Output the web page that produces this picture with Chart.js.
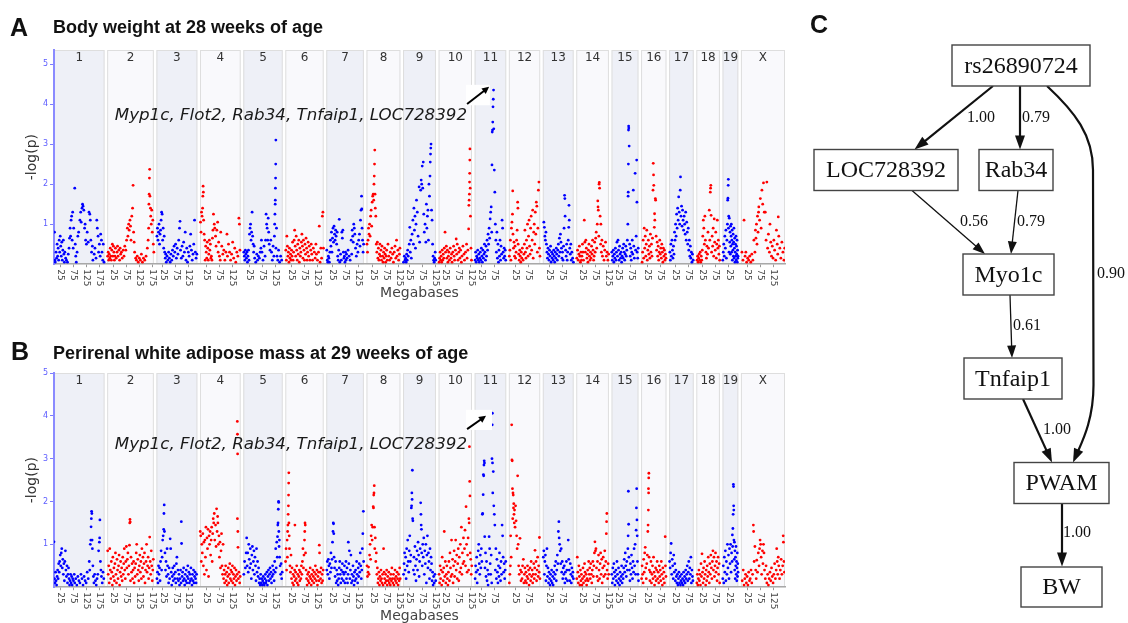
<!DOCTYPE html>
<html>
<head>
<meta charset="utf-8">
<script src="https://cdn.jsdelivr.net/npm/chart.js@4.4.0/dist/chart.umd.min.js"></script>
<style>
  html, body { margin: 0; padding: 0; background: #fff; }
  body { width: 1128px; height: 623px; overflow: hidden; position: relative; }
  canvas { position: absolute; }
  .lbl { position: absolute; font-family: "Liberation Sans", Arial, sans-serif; font-weight: bold; line-height: 1; white-space: nowrap; color: #111; }
</style>
</head>
<body>
<canvas id="bw" width="800" height="305" style="left:0;top:0"></canvas>
<canvas id="pwam" width="800" height="305" style="left:0;top:323px"></canvas>
<canvas id="dag" width="328" height="623" style="left:800px;top:0"></canvas>
<div class="lbl" style="left:10px;top:15px;font-size:25px">A</div>
<div class="lbl" style="left:53px;top:18px;font-size:18px">Body weight at 28 weeks of age</div>
<div class="lbl" style="left:11px;top:339px;font-size:25px">B</div>
<div class="lbl" style="left:53px;top:344px;font-size:18px">Perirenal white adipose mass at 29 weeks of age</div>
<div class="lbl" style="left:810px;top:12px;font-size:25px">C</div>
<script>
// chromosomes and their lengths (Mb)
const chromosomes = ["1","2","3","4","5","6","7","8","9","10","11","12","13","14","15","16","17","18","19","X"];
const chrLengthMb = [195,180,158,157,152,148,145,131,127,129,122,121,119,126,104,98,95,91,61,170];
const xTickMb = [25, 75, 125, 175];
const yTicks = [1, 2, 3, 4, 5];
const geneLabel = "Myp1c, Flot2, Rab34, Tnfaip1, LOC728392";

// -log(p) by chromosome, [position Mb, -log(p)]  -- body weight, 28 weeks
const bodyWeightLogP = [
  [[2,0.8],[3,0.1],[5,0.05],[8,0.3],[10,0.15],[12,0.5],[14,0.2],[16,0.4],[18,0.1],[20,0.6],[22,0.3],[24,0.7],[26,0.45],[28,0.2],[30,0.55],[32,0.1],[34,0.35],[36,0.6],[38,0.25],[40,0.05],[42,0.3],[45,0.15],[48,0.1],[52,0.05],[55,0.25],[58,0.4],[60,0.65],[62,0.9],[64,0.7],[66,1.1],[68,1.2],[70,0.6],[72,1.3],[74,0.4],[76,0.9],[80,1.9],[82,0.5],[84,0.2],[86,0.05],[89,0.3],[92,0.7],[95,0.8],[100,1.1],[103,1.3],[105,1.05],[108,1.4],[110,1.5],[112,1.45],[115,1.35],[118,0.9],[120,1.0],[122,0.6],[125,0.5],[128,0.8],[132,0.55],[135,1.3],[138,1.25],[140,1.1],[142,0.6],[145,0.3],[148,0.45],[150,0.1],[155,0.25],[158,0.4],[162,0.15],[165,1.1],[167,0.9],[170,0.7],[172,0.3],[175,0.5],[178,0.2],[180,0.75],[183,0.6],[185,0.3],[188,0.1],[190,0.5],[193,0.05]],
  [[2,0.2],[4,0.3],[6,0.1],[8,0.25],[10,0.15],[12,0.4],[14,0.2],[16,0.1],[18,0.35],[20,0.5],[22,0.2],[24,0.45],[26,0.3],[28,0.1],[30,0.2],[32,0.4],[35,0.15],[38,0.3],[40,0.45],[42,0.2],[45,0.35],[48,0.1],[50,0.4],[52,0.25],[55,0.3],[58,0.15],[62,0.35],[65,0.2],[68,0.45],[72,0.35],[75,0.6],[78,0.9],[80,0.7],[83,1.0],[85,0.85],[88,1.1],[90,0.95],[92,0.6],[95,1.2],[98,1.4],[100,1.97],[102,0.8],[104,0.55],[106,0.3],[110,0.15],[113,0.1],[116,0.2],[120,0.05],[124,0.15],[128,0.1],[132,0.25],[136,0.05],[140,0.15],[145,0.1],[150,0.2],[155,0.4],[158,0.6],[160,0.9],[161,1.5],[162,1.75],[163,2.15],[164,2.37],[165,1.7],[167,1.4],[168,1.2],[170,1.0],[172,1.35],[174,0.8],[176,1.1],[178,0.5],[180,0.3]],
  [[2,0.7],[4,0.9],[6,0.6],[8,0.8],[10,1.0],[12,0.5],[14,0.75],[16,0.85],[18,1.1],[20,1.3],[22,1.25],[24,0.6],[26,0.9],[28,0.4],[30,0.7],[32,0.3],[34,0.15],[36,0.25],[38,0.05],[41,0.2],[44,0.1],[47,0.3],[50,0.15],[53,0.05],[56,0.25],[59,0.1],[62,0.35],[65,0.2],[68,0.45],[71,0.3],[74,0.5],[77,0.15],[80,0.4],[83,0.25],[86,0.6],[89,0.9],[91,1.07],[93,0.35],[96,0.15],[99,0.45],[102,0.2],[105,0.55],[108,0.3],[111,0.8],[114,0.1],[117,0.4],[120,0.05],[123,0.3],[126,0.2],[129,0.45],[132,0.75],[135,0.35],[138,0.1],[141,0.25],[144,0.5],[147,1.1],[150,0.3],[153,0.15],[156,0.25]],
  [[2,1.05],[4,0.8],[6,1.3],[8,1.2],[10,1.4],[11,1.7],[12,1.95],[13,1.8],[14,1.1],[16,0.75],[18,0.6],[20,0.1],[22,0.45],[24,0.3],[26,0.15],[28,0.55],[30,0.4],[32,0.1],[34,0.25],[36,0.6],[38,0.35],[40,0.5],[42,0.15],[44,0.2],[46,0.1],[48,0.65],[50,0.85],[52,1.25],[55,1.0],[57,0.9],[60,0.7],[62,0.45],[65,0.85],[68,1.05],[70,0.3],[72,0.55],[75,0.2],[78,0.1],[80,0.8],[84,0.45],[88,0.25],[92,0.35],[96,0.1],[100,0.3],[104,0.75],[106,0.2],[110,0.5],[114,0.3],[118,0.1],[122,0.25],[126,0.55],[130,0.15],[134,0.4],[138,0.05],[142,0.3],[146,0.2],[150,1.15],[152,1.0],[154,0.35]],
  [[2,0.3],[4,0.2],[6,0.1],[8,0.35],[10,0.25],[12,0.15],[14,0.3],[16,0.05],[18,0.2],[20,0.35],[22,0.1],[24,0.75],[26,0.9],[28,1.0],[30,0.6],[32,0.8],[34,1.3],[36,0.7],[38,0.5],[40,0.3],[42,0.45],[44,0.15],[48,0.05],[52,0.25],[55,0.1],[58,0.2],[62,0.15],[65,0.3],[68,0.4],[70,0.6],[72,0.3],[76,0.1],[80,0.45],[84,0.2],[86,0.6],[88,1.25],[90,1.0],[92,0.9],[94,0.6],[96,1.15],[98,0.8],[100,0.5],[103,0.35],[106,0.6],[109,0.3],[112,0.1],[115,0.45],[118,0.2],[120,0.7],[121,1.0],[122,1.25],[123,1.5],[123.5,1.6],[124,1.9],[124.5,2.15],[125,2.5],[125.5,3.1],[126,0.4],[128,0.9],[130,0.2],[133,0.1],[136,0.35],[140,0.05],[144,0.2],[148,0.1]],
  [[2,0.35],[4,0.1],[6,0.7],[8,0.45],[10,0.2],[12,0.3],[14,0.05],[16,0.4],[18,0.15],[20,0.25],[22,0.1],[24,0.35],[26,0.2],[28,0.55],[30,0.1],[32,0.3],[34,0.6],[36,0.85],[38,0.45],[40,0.2],[42,0.7],[44,0.35],[46,0.1],[48,0.5],[50,0.25],[52,0.6],[54,0.05],[56,0.4],[58,0.2],[60,0.3],[62,0.55],[64,0.75],[66,0.45],[68,0.15],[70,0.6],[72,0.35],[74,0.1],[76,0.5],[78,0.25],[80,0.65],[82,0.4],[84,0.1],[86,0.3],[88,0.55],[90,0.2],[92,0.45],[95,0.1],[98,0.35],[100,0.5],[102,0.25],[105,0.1],[108,0.4],[112,0.3],[115,0.15],[118,0.5],[120,0.25],[124,0.1],[128,0.3],[131,0.95],[134,0.05],[137,0.4],[140,0.15],[143,1.2],[145,1.3],[147,0.4]],
  [[2,0.35],[4,0.1],[6,0.05],[8,0.2],[10,0.15],[12,0.05],[14,0.3],[16,0.6],[18,0.45],[20,0.8],[22,0.3],[24,0.65],[26,0.9],[28,0.55],[30,0.95],[32,0.75],[34,0.6],[36,0.85],[38,0.7],[40,0.5],[42,0.8],[44,0.2],[46,0.1],[48,0.35],[50,1.12],[52,0.05],[55,0.25],[58,0.1],[60,0.8],[62,0.65],[64,0.85],[66,0.3],[68,0.15],[70,0.2],[72,0.05],[74,0.3],[76,0.1],[78,0.25],[80,0.15],[84,0.35],[88,0.2],[92,0.1],[96,0.6],[98,0.25],[100,0.85],[102,0.7],[104,0.55],[106,1.0],[108,0.9],[110,0.75],[113,0.4],[116,0.2],[119,0.5],[122,0.3],[125,0.6],[128,0.75],[130,0.45],[132,1.1],[134,1.35],[136,1.7],[137,1.38],[138,0.9],[140,0.6],[142,0.3],[144,0.5]],
  [[2,0.5],[4,0.3],[6,0.6],[8,0.9],[10,0.75],[12,1.0],[14,0.7],[16,1.2],[18,1.35],[20,0.95],[22,1.55],[24,1.7],[26,1.75],[28,1.6],[29,2.0],[30,2.2],[31,2.5],[32,2.85],[33,1.75],[34,1.4],[36,1.2],[38,0.5],[40,0.3],[42,0.55],[44,0.15],[46,0.4],[48,0.1],[50,0.25],[52,0.5],[54,0.2],[56,0.35],[58,0.1],[60,0.45],[62,0.2],[64,0.05],[66,0.3],[68,0.15],[70,0.4],[72,0.25],[74,0.05],[76,0.2],[78,0.35],[80,0.1],[83,0.5],[86,0.2],[89,0.1],[92,0.3],[95,0.15],[98,0.4],[101,0.25],[104,0.05],[107,0.3],[110,0.45],[113,0.15],[116,0.6],[118,0.2],[121,0.35],[124,0.1],[127,0.25],[129,0.4]],
  [[2,0.05],[5,0.2],[8,0.1],[10,0.15],[12,0.05],[14,0.25],[16,0.1],[18,0.35],[20,0.2],[24,0.5],[26,0.92],[28,0.3],[30,0.6],[32,0.15],[35,0.75],[38,1.1],[40,0.5],[42,1.4],[44,0.85],[46,1.2],[48,0.4],[50,1.0],[52,1.6],[55,1.3],[58,0.7],[62,1.93],[64,0.55],[68,1.85],[70,2.1],[72,2.0],[74,2.45],[76,1.9],[78,2.55],[80,1.25],[82,0.8],[85,1.0],[88,0.55],[90,1.5],[92,0.9],[94,1.2],[96,1.35],[98,0.6],[100,2.0],[102,1.7],[104,2.2],[105,2.55],[106,2.75],[107,2.9],[108,3.0],[110,1.35],[112,1.1],[114,0.5],[116,0.2],[118,0.1],[120,0.05],[122,0.15],[124,0.3],[126,0.1]],
  [[2,0.05],[4,0.15],[6,0.3],[8,0.1],[10,0.2],[12,0.05],[14,0.35],[16,0.1],[18,0.25],[20,0.15],[22,0.4],[25,0.8],[27,0.3],[30,0.45],[32,0.15],[34,0.35],[36,0.05],[38,0.2],[40,0.3],[42,0.1],[45,0.4],[48,0.15],[50,0.25],[52,0.05],[55,0.3],[58,0.45],[60,0.2],[62,0.1],[65,0.35],[68,0.63],[70,0.25],[72,0.5],[75,0.1],[78,0.3],[80,0.4],[82,0.15],[85,0.35],[88,0.05],[90,0.2],[94,0.45],[98,0.25],[100,0.1],[104,0.3],[108,0.5],[110,0.15],[113,0.35],[116,0.88],[117,1.47],[118,1.6],[119,1.75],[119.5,2.05],[120,2.27],[120.5,2.6],[121,2.88],[122,1.9],[123,1.2],[125,0.4],[127,0.1]],
  [[2,0.1],[4,0.3],[6,0.05],[8,0.2],[10,0.15],[12,0.35],[14,0.1],[16,0.25],[18,0.05],[20,0.15],[22,0.3],[24,0.1],[26,0.4],[28,0.2],[30,0.05],[32,0.35],[34,0.15],[36,0.25],[38,0.5],[40,0.3],[42,0.1],[44,0.45],[46,0.2],[48,0.6],[50,0.35],[52,0.75],[54,0.5],[56,0.9],[58,0.65],[60,1.13],[62,1.3],[64,1.43],[66,0.8],[67,2.48],[68,3.3],[69,3.35],[70,3.55],[71,3.93],[72,4.12],[73,4.35],[74,3.38],[76,2.35],[78,1.8],[80,1.0],[82,0.6],[84,0.3],[86,0.8],[88,0.15],[90,0.5],[92,0.05],[94,0.35],[96,0.2],[98,0.6],[100,0.1],[102,0.45],[104,0.25],[106,1.1],[108,0.9],[110,0.3],[112,0.15],[114,0.4],[116,0.2],[118,0.35],[120,0.1]],
  [[2,0.2],[4,0.35],[6,0.6],[8,0.1],[10,0.9],[12,1.05],[14,1.25],[15,1.83],[16,0.75],[18,0.4],[20,0.55],[22,0.2],[24,0.45],[26,0.15],[28,0.3],[30,0.6],[32,0.85],[34,1.55],[35,1.4],[36,0.5],[38,0.25],[40,0.1],[42,0.35],[44,0.2],[46,0.05],[48,0.3],[50,0.15],[52,0.4],[55,0.1],[58,0.25],[60,0.5],[62,0.85],[64,0.3],[66,0.15],[68,0.6],[70,0.4],[72,1.0],[74,0.2],[76,0.7],[78,1.1],[80,0.45],[82,0.25],[84,0.9],[86,1.2],[88,0.35],[90,0.6],[92,1.35],[94,0.15],[96,0.8],[98,1.0],[100,0.5],[102,1.3],[104,0.75],[106,1.55],[108,1.45],[110,0.3],[112,0.9],[114,1.85],[116,2.05],[118,0.4],[120,0.2]],
  [[4,1.05],[6,0.92],[8,0.7],[10,0.6],[12,0.8],[14,0.5],[16,0.3],[18,0.15],[20,0.4],[22,0.25],[24,0.1],[26,0.35],[28,0.2],[30,0.45],[32,0.05],[34,0.3],[36,0.15],[38,0.25],[40,0.1],[42,0.35],[44,0.2],[46,0.05],[48,0.3],[50,0.15],[52,0.4],[54,0.25],[56,0.1],[58,0.35],[60,0.5],[62,0.2],[64,0.65],[66,0.3],[68,0.75],[70,0.55],[72,0.4],[74,0.15],[76,0.3],[78,0.1],[80,0.45],[82,0.9],[84,1.72],[85,1.64],[86,1.2],[88,0.35],[90,0.2],[92,0.5],[94,0.1],[96,0.3],[98,0.6],[100,0.92],[101,1.47],[102,1.1],[104,0.4],[106,0.25],[108,0.5],[110,0.1],[112,0.3],[115,0.15],[118,0.05]],
  [[2,0.15],[5,0.35],[8,0.1],[10,0.25],[12,0.45],[14,0.2],[16,0.05],[18,0.3],[20,0.1],[22,0.2],[24,0.5],[26,0.3],[28,0.1],[31,1.1],[33,0.55],[35,0.3],[37,0.6],[39,0.4],[41,0.15],[43,0.25],[45,0.05],[47,0.35],[49,0.5],[51,0.2],[53,0.1],[55,0.3],[57,0.15],[59,0.45],[61,0.25],[63,0.6],[65,0.35],[67,0.1],[69,0.2],[71,0.55],[73,0.3],[75,0.65],[77,0.8],[79,0.4],[81,1.0],[83,1.58],[84,1.43],[85,1.35],[87,0.7],[88,2.0],[89,2.04],[90,1.9],[92,1.2],[94,0.5],[95,1.0],[97,0.3],[99,0.6],[101,0.2],[104,0.45],[107,0.1],[110,0.35],[113,0.55],[116,0.2],[119,0.3],[122,0.1],[125,0.25]],
  [[1,0.3],[3,0.1],[5,0.2],[7,0.35],[9,0.05],[11,0.25],[13,0.15],[15,0.4],[17,0.1],[19,0.3],[21,0.55],[23,0.2],[25,0.6],[27,0.35],[29,0.1],[31,0.45],[33,0.25],[35,0.15],[37,0.3],[39,0.05],[41,0.2],[43,0.4],[45,0.15],[47,0.5],[49,0.3],[51,0.1],[53,0.25],[55,0.45],[57,0.2],[59,0.35],[61,0.6],[63,1.0],[64,1.7],[64.5,1.8],[65,2.5],[65.5,3.35],[66,3.45],[66.5,3.4],[68,2.95],[70,0.5],[72,0.2],[74,0.4],[76,0.1],[78,0.3],[80,0.6],[82,0.25],[84,1.85],[86,0.45],[88,0.15],[91,2.27],[93,0.35],[95,0.7],[97,2.6],[98,1.55],[99,0.3],[101,0.15],[103,0.4]],
  [[4,0.05],[6,0.3],[8,0.6],[10,0.15],[12,0.9],[14,0.4],[16,0.7],[18,0.2],[20,0.5],[22,0.85],[24,0.1],[26,0.35],[28,0.6],[30,0.25],[32,0.45],[34,0.15],[36,0.75],[38,0.3],[40,0.5],[42,0.2],[44,0.65],[46,1.85],[47,2.52],[48,2.23],[49,1.97],[51,0.92],[52,1.26],[53,1.1],[55,1.64],[56,1.6],[58,0.7],[60,0.35],[62,0.55],[64,0.2],[66,0.45],[68,0.1],[70,0.3],[72,0.6],[74,0.25],[76,0.4],[78,0.15],[80,0.5],[82,0.3],[84,0.05],[86,0.4],[88,0.2],[90,0.35],[92,0.1],[94,0.25],[96,0.15]],
  [[3,0.3],[5,0.1],[7,0.5],[9,0.2],[11,0.6],[13,0.35],[15,0.15],[17,0.45],[19,0.25],[21,0.8],[23,0.6],[25,1.0],[27,0.7],[29,1.25],[31,0.9],[33,1.4],[35,1.1],[37,1.68],[39,1.3],[41,1.0],[43,1.85],[44,2.18],[46,1.2],[48,1.45],[50,0.95],[52,1.35],[54,1.1],[56,0.85],[58,1.2],[60,1.0],[62,0.75],[64,1.3],[66,0.6],[68,1.05],[70,0.8],[72,0.5],[74,0.9],[76,0.35],[78,0.6],[80,0.2],[82,0.45],[84,0.15],[86,0.3],[88,0.05],[90,0.25],[93,0.1]],
  [[3,0.1],[5,0.2],[7,0.05],[9,0.15],[11,0.25],[13,0.1],[15,0.3],[17,0.05],[19,0.2],[21,0.1],[23,0.35],[25,0.7],[27,1.1],[29,0.9],[31,0.5],[33,1.2],[35,0.6],[37,0.3],[39,0.15],[41,0.45],[43,0.25],[45,0.8],[47,0.4],[50,1.35],[52,0.6],[54,1.8],[55,1.9],[56,1.97],[57,1.22],[59,0.3],[61,0.7],[63,0.45],[65,0.9],[67,0.2],[69,1.13],[71,0.55],[73,0.35],[75,0.8],[77,0.15],[79,0.5],[81,1.1],[83,0.4],[85,0.6],[87,0.25],[89,0.45],[90,0.1]],
  [[1,0.1],[3,0.3],[5,0.5],[7,0.2],[9,0.7],[11,0.4],[13,0.85],[15,0.15],[17,0.6],[19,1.0],[20,1.6],[21,1.65],[22,1.97],[22.5,2.12],[23,0.9],[24,1.2],[25,0.3],[26,1.15],[28,0.55],[29,0.8],[30,0.25],[31,0.95],[32,0.45],[33,0.7],[34,1.0],[35,0.3],[36,0.6],[37,0.85],[38,0.1],[39,0.5],[40,0.35],[41,0.75],[42,0.2],[43,0.55],[44,0.9],[45,0.15],[46,0.4],[47,0.65],[48,0.05],[49,0.3],[50,0.5],[51,0.2],[52,0.7],[53,0.1],[54,0.45],[55,0.25],[56,0.6],[57,0.05],[58,0.35],[59,0.15],[60,0.2]],
  [[4,0.3],[8,0.1],[12,1.1],[16,0.2],[19,0.3],[22,0.05],[26,0.15],[30,0.1],[34,0.2],[38,0.05],[42,0.25],[46,0.1],[50,0.6],[54,0.3],[56,0.85],[58,0.65],[60,1.0],[62,0.5],[64,1.2],[66,0.8],[68,1.3],[69,1.43],[72,1.1],[75,1.64],[78,0.9],[81,1.85],[84,1.5],[87,2.03],[90,1.3],[94,1.3],[97,0.6],[100,2.05],[103,0.4],[106,0.75],[110,0.3],[112,1.0],[115,0.55],[118,0.2],[121,0.45],[124,0.15],[127,0.6],[130,0.35],[134,0.1],[137,0.85],[140,0.5],[142,0.25],[144,1.18],[146,0.7],[150,0.4],[154,0.15],[158,0.55],[162,0.3],[166,0.1],[169,0.4]]
];

// -log(p) by chromosome -- perirenal white adipose mass, 29 weeks
const adiposeLogP = [
  [[0,1.06],[2,0.2],[4,0.1],[6,0.35],[8,0.15],[10,0.05],[12,0.25],[14,0.4],[16,0.2],[18,0.55],[20,0.35],[22,0.6],[24,0.75],[26,0.5],[28,0.8],[30,0.9],[32,0.45],[34,0.65],[36,0.3],[38,0.55],[40,0.15],[42,0.6],[44,0.85],[46,0.4],[48,0.25],[50,0.5],[52,0.1],[54,0.3],[56,0.45],[58,0.2],[60,0.05],[62,0.15],[64,0.3],[66,0.1],[68,0.25],[70,0.05],[72,0.2],[75,0.15],[78,0.3],[80,0.1],[84,0.2],[88,0.05],[92,0.25],[96,0.15],[100,0.1],[104,0.3],[108,0.2],[112,0.05],[116,0.25],[120,0.15],[124,0.1],[128,0.35],[132,0.2],[136,0.6],[138,0.4],[140,1.0],[142,1.1],[143,1.41],[144,1.6],[145,1.77],[146,1.72],[147,1.1],[148,0.9],[150,0.5],[152,0.25],[154,0.1],[157,0.3],[160,0.15],[163,0.05],[166,0.2],[169,0.3],[172,0.85],[175,1.05],[176,1.15],[177,1.57],[179,0.6],[181,0.4],[183,0.25],[186,0.1],[189,0.35],[192,0.2]],
  [[2,0.85],[4,0.3],[6,0.5],[8,0.1],[10,0.9],[12,0.4],[14,0.2],[16,0.6],[18,0.35],[20,0.05],[22,0.7],[24,0.25],[26,0.45],[28,0.15],[30,0.55],[32,0.8],[34,0.3],[36,0.1],[38,0.65],[40,0.4],[42,0.2],[44,0.5],[46,0.75],[48,0.05],[50,0.35],[52,0.6],[54,0.25],[56,0.45],[58,0.15],[60,0.7],[62,0.3],[64,0.55],[66,0.9],[68,0.4],[70,0.2],[72,0.6],[74,0.95],[76,0.45],[78,0.65],[80,0.8],[82,0.3],[84,0.5],[86,0.98],[87,1.5],[88,1.58],[89,1.52],[90,0.15],[92,0.7],[94,0.35],[96,0.55],[98,0.2],[100,0.4],[102,0.6],[104,0.1],[106,0.45],[108,0.25],[110,0.55],[112,0.8],[114,1.0],[116,0.3],[118,0.65],[120,0.4],[122,0.15],[124,0.5],[126,0.75],[128,0.35],[130,0.6],[132,0.2],[134,0.9],[136,0.45],[138,0.7],[140,0.25],[142,0.55],[144,0.8],[146,0.1],[148,0.4],[150,0.6],[152,1.0],[154,0.35],[156,0.5],[158,0.7],[160,0.2],[162,0.45],[164,1.17],[166,0.6],[168,0.3],[170,0.85],[172,0.5],[174,0.15],[176,0.4],[178,0.65]],
  [[2,0.2],[4,0.35],[6,0.1],[8,0.5],[10,0.3],[12,0.45],[14,0.15],[16,0.6],[18,0.85],[20,0.4],[22,0.7],[24,1.1],[26,1.2],[28,1.35],[29,1.72],[30,1.92],[31,1.3],[33,0.8],[35,0.4],[37,0.6],[39,0.25],[41,0.9],[43,0.5],[45,0.3],[47,0.1],[49,0.45],[51,0.2],[53,1.13],[55,0.9],[57,0.35],[59,0.05],[61,0.25],[63,0.45],[65,0.15],[67,0.3],[69,0.5],[71,0.2],[73,0.35],[75,0.1],[77,0.55],[79,0.7],[81,0.2],[83,0.4],[85,0.15],[87,0.3],[89,0.05],[91,0.2],[93,0.4],[95,0.1],[96,1.53],[97,1.02],[99,0.25],[101,0.35],[103,0.15],[105,0.45],[107,0.2],[109,0.05],[111,0.3],[113,0.15],[115,0.4],[117,0.1],[119,0.25],[121,0.5],[123,0.2],[125,0.35],[127,0.1],[129,0.3],[131,0.15],[133,0.45],[135,0.2],[137,0.05],[139,0.3],[141,0.15],[143,0.4],[145,0.1],[147,0.25],[149,0.35],[151,0.2],[153,0.1],[155,0.3]],
  [[1,1.3],[3,1.2],[5,0.6],[7,1.0],[9,0.8],[11,1.25],[13,0.5],[15,1.05],[17,0.3],[19,1.1],[21,0.7],[23,1.4],[25,0.4],[27,1.15],[29,0.9],[31,1.35],[33,0.25],[35,1.2],[37,1.0],[39,1.3],[41,0.75],[43,1.1],[45,1.4],[47,0.6],[49,1.25],[51,1.6],[53,1.5],[55,1.72],[57,1.1],[60,1.45],[62,0.95],[64,1.83],[66,1.3],[68,1.65],[69,1.5],[71,1.0],[73,1.2],[75,0.7],[77,1.05],[79,0.45],[81,0.85],[83,1.25],[85,0.5],[87,0.3],[89,1.0],[91,0.2],[93,0.4],[95,0.1],[97,0.3],[99,0.5],[101,0.15],[103,0.35],[105,0.05],[107,0.25],[109,0.45],[111,0.1],[113,0.3],[115,0.55],[117,0.2],[119,0.4],[121,0.15],[123,0.35],[125,0.5],[127,0.1],[129,0.3],[131,0.2],[133,0.45],[135,0.05],[137,0.25],[139,0.4],[141,0.15],[143,0.3],[144,3.87],[144.5,3.57],[145,3.11],[144.3,1.6],[146,1.3],[146.5,0.93],[148,0.2],[150,0.35],[153,0.1],[155,0.25]],
  [[2,0.3],[5,0.6],[8,0.45],[11,0.8],[13,1.15],[15,0.5],[17,0.8],[19,0.35],[21,1.0],[23,0.65],[25,0.45],[27,0.9],[29,0.55],[31,0.2],[33,0.75],[35,0.95],[37,0.4],[39,0.6],[41,0.85],[43,0.3],[45,0.7],[47,0.5],[49,0.15],[51,0.9],[53,0.35],[55,0.6],[57,0.25],[59,0.45],[61,0.1],[63,0.2],[65,0.05],[67,0.3],[69,0.1],[71,0.2],[73,0.05],[75,0.15],[77,0.25],[79,0.1],[81,0.05],[83,0.2],[85,0.3],[87,0.1],[89,0.15],[91,0.35],[93,0.05],[95,0.25],[97,0.4],[99,0.15],[101,0.3],[103,0.45],[105,0.2],[107,0.35],[109,0.1],[111,0.25],[113,0.5],[115,0.3],[117,0.4],[119,0.15],[121,0.6],[123,0.35],[125,0.9],[127,0.45],[129,1.05],[131,0.7],[132,1.18],[133,1.45],[134,1.5],[135,1.82],[136,2.0],[136.5,1.98],[137,1.3],[138,0.95],[139,1.1],[140,0.7],[142,0.5],[144,0.3],[146,0.55],[148,0.2],[150,0.35]],
  [[1,0.6],[3,0.9],[5,0.4],[7,1.1],[8,0.7],[9,1.3],[10,1.45],[11,1.7],[12,1.9],[12.5,2.15],[13,2.43],[13.5,2.67],[14,1.5],[15,1.2],[16,0.9],[18,0.5],[20,0.35],[22,0.75],[24,0.2],[26,0.45],[28,0.1],[30,0.3],[32,0.05],[34,0.25],[36,0.4],[37,1.45],[38,0.15],[40,0.35],[42,0.2],[44,0.5],[46,0.1],[48,0.3],[50,0.05],[52,0.25],[54,0.4],[56,0.15],[58,0.35],[60,0.2],[62,0.5],[64,0.3],[66,0.6],[68,0.9],[70,0.45],[72,0.75],[74,1.1],[75,1.3],[76,1.5],[77,1.45],[78,0.8],[80,0.4],[82,0.2],[84,0.05],[86,0.3],[88,0.15],[90,0.35],[92,0.1],[94,0.25],[96,0.45],[98,0.2],[100,0.05],[102,0.3],[104,0.15],[106,0.4],[108,0.25],[110,0.1],[112,0.35],[114,0.2],[116,0.5],[118,0.3],[120,0.15],[122,0.4],[124,0.05],[126,0.25],[128,0.35],[130,0.15],[131,0.98],[132,0.8],[134,0.35],[136,0.2],[138,0.45],[140,0.1],[142,0.3],[144,0.15],[146,0.4]],
  [[2,0.4],[4,0.6],[6,0.3],[8,0.65],[10,0.5],[12,0.2],[14,0.55],[16,0.35],[18,0.8],[20,0.45],[22,0.65],[24,1.05],[26,1.3],[27,1.5],[28,1.48],[29,1.25],[30,0.7],[32,0.45],[34,0.25],[36,0.6],[38,0.1],[40,0.4],[42,0.15],[44,0.3],[46,0.05],[48,0.2],[50,0.45],[52,0.6],[54,0.3],[56,0.1],[58,0.4],[60,0.2],[62,0.55],[64,0.35],[66,0.15],[68,0.3],[70,0.5],[72,0.1],[74,0.35],[76,0.6],[78,0.2],[80,0.45],[82,0.1],[84,0.3],[85,1.05],[87,0.55],[89,0.85],[91,0.2],[93,0.4],[95,0.75],[97,0.1],[99,0.3],[101,0.15],[103,0.5],[105,0.25],[107,0.05],[109,0.35],[111,0.15],[113,0.4],[115,0.2],[117,0.6],[119,0.3],[121,0.1],[123,0.45],[125,0.25],[127,0.55],[129,0.35],[131,0.8],[133,0.5],[135,0.2],[137,0.4],[139,0.9],[141,1.25],[143,1.77],[144,0.6]],
  [[2,0.5],[4,0.25],[6,0.35],[8,0.47],[10,0.3],[12,0.75],[14,1.0],[16,0.65],[18,1.2],[20,1.45],[22,1.1],[24,1.4],[26,1.88],[27,1.85],[28,2.15],[29,2.2],[30,2.37],[31,1.4],[32,0.9],[34,1.15],[36,0.6],[38,0.8],[40,0.3],[42,0.45],[44,0.1],[46,0.2],[48,0.35],[50,0.05],[52,0.25],[54,0.15],[56,0.4],[58,0.2],[60,0.1],[62,0.3],[64,0.05],[66,0.9],[68,0.35],[70,0.2],[72,0.1],[74,0.3],[76,0.15],[78,0.4],[80,0.05],[82,0.25],[84,0.15],[86,0.35],[88,0.1],[90,0.2],[92,0.05],[94,0.3],[96,0.15],[98,0.45],[100,0.2],[102,0.1],[104,0.3],[106,0.05],[108,0.2],[110,0.4],[112,0.15],[114,0.25],[116,0.1],[118,0.35],[120,0.2],[122,0.05],[124,0.3],[126,0.15],[128,0.45],[130,0.2]],
  [[2,0.3],[4,0.55],[6,0.8],[8,0.4],[10,0.7],[12,0.2],[14,0.9],[16,0.5],[18,1.1],[20,0.6],[22,0.35],[24,0.85],[26,1.2],[28,0.6],[30,0.75],[32,1.85],[33,1.9],[34,2.2],[35,2.05],[36,2.73],[37,1.6],[38,1.55],[40,0.4],[42,0.7],[44,0.3],[46,0.95],[48,0.5],[50,0.15],[52,0.65],[54,0.85],[56,0.4],[58,1.05],[60,0.75],[62,0.25],[64,0.6],[66,0.9],[68,1.97],[69,1.7],[70,1.45],[71,1.35],[72,0.8],[74,0.5],[76,1.0],[78,0.7],[80,1.15],[82,0.3],[84,0.85],[86,0.55],[88,1.0],[90,0.1],[92,0.75],[94,1.2],[96,0.45],[98,0.8],[100,0.6],[102,0.2],[104,0.9],[106,0.4],[108,0.7],[110,0.55],[112,0.15],[114,0.35],[116,0.05],[118,0.25],[120,0.1],[123,0.3],[126,0.15]],
  [[2,0.3],[4,0.1],[6,0.5],[8,0.2],[10,0.4],[12,0.05],[14,0.7],[16,0.35],[18,0.15],[20,0.45],[22,1.3],[24,0.25],[26,0.6],[28,0.1],[30,0.3],[32,0.5],[34,0.2],[36,0.05],[38,0.35],[40,0.6],[42,0.15],[44,0.8],[46,0.45],[48,0.25],[50,1.1],[52,0.3],[54,0.65],[56,0.1],[58,0.5],[60,0.85],[62,0.25],[64,0.6],[66,1.1],[68,0.4],[70,0.75],[72,0.2],[74,0.55],[76,0.9],[78,0.15],[80,0.7],[82,0.35],[84,1.0],[86,0.45],[88,1.4],[90,0.3],[92,0.8],[94,0.55],[96,1.15],[98,0.6],[100,0.9],[102,1.33],[104,0.5],[106,1.88],[108,1.0],[110,0.35],[112,0.75],[114,1.15],[116,0.4],[117,1.6],[118,1.5],[119,3.28],[120,2.47],[121,2.13],[122,0.8],[124,0.65],[126,0.3],[128,0.5]],
  [[2,0.2],[4,0.5],[6,0.35],[8,0.7],[10,0.1],[12,0.4],[14,0.85],[16,1.0],[18,0.55],[20,0.3],[22,0.75],[24,0.45],[26,0.9],[28,0.6],[30,1.7],[31,1.72],[33,2.16],[34,2.63],[35,2.6],[36,2.85],[37,2.95],[38,2.9],[39,1.18],[40,0.45],[42,0.8],[44,0.25],[46,0.6],[48,0.15],[50,0.4],[52,0.05],[54,0.3],[56,1.18],[58,0.9],[60,0.55],[62,0.3],[64,0.75],[66,0.1],[67,3.0],[68,3.79],[68.5,4.06],[69,2.9],[70,2.2],[72,2.7],[74,1.9],[76,1.7],[78,1.45],[80,0.4],[82,0.9],[84,0.2],[86,0.65],[88,0.35],[90,0.1],[92,0.5],[94,0.25],[96,0.8],[98,0.45],[100,0.15],[102,0.6],[104,0.3],[106,1.45],[108,1.2],[110,0.7],[112,0.35],[114,0.55],[116,0.2],[118,0.4],[120,0.6]],
  [[2,0.1],[4,0.3],[6,0.5],[7,1.2],[9,0.7],[11,3.79],[12,2.97],[13,2.95],[14,2.3],[15,1.6],[16,2.2],[17,2.15],[18,1.85],[19,1.95],[20,1.7],[21,1.5],[22,1.8],[24,1.4],[26,1.9],[28,1.55],[30,1.2],[32,0.9],[34,2.6],[36,1.0],[38,0.5],[40,0.3],[43,1.14],[45,0.4],[47,0.15],[49,0.35],[51,0.2],[53,0.5],[56,0.65],[58,0.1],[60,0.3],[62,0.45],[64,0.15],[66,0.35],[68,0.1],[70,0.25],[72,0.5],[74,0.2],[76,0.4],[78,0.05],[80,0.3],[82,0.45],[84,0.15],[86,0.6],[88,0.25],[90,0.4],[92,0.1],[94,0.3],[96,0.55],[98,0.2],[100,0.45],[101,0.86],[103,0.3],[105,0.6],[107,0.15],[109,0.4],[111,0.7],[113,0.25],[115,0.5],[117,0.35],[118,1.16],[120,0.2]],
  [[2,0.7],[4,0.85],[6,0.3],[8,0.6],[10,0.75],[12,0.15],[14,0.5],[16,0.9],[18,0.25],[20,0.45],[22,0.1],[24,0.35],[26,0.2],[28,0.05],[30,0.3],[32,0.15],[34,0.4],[36,0.1],[38,0.25],[40,0.05],[42,0.35],[44,0.2],[46,0.5],[48,0.3],[50,0.6],[52,0.15],[54,0.4],[56,0.75],[58,0.55],[60,1.3],[62,1.53],[63,1.15],[65,1.0],[67,0.85],[69,0.55],[71,0.9],[73,0.35],[75,0.6],[77,0.2],[79,0.45],[81,0.3],[83,0.5],[85,0.1],[87,0.35],[89,0.2],[91,0.6],[93,0.4],[95,0.15],[98,1.1],[100,0.65],[102,0.4],[104,0.15],[106,0.55],[108,0.3],[110,0.1],[112,0.45],[114,0.25],[116,0.35],[118,0.2]],
  [[2,0.2],[4,0.7],[6,0.35],[8,0.1],[10,0.5],[12,0.25],[14,0.05],[16,0.4],[18,0.15],[20,0.3],[22,0.05],[24,0.2],[26,0.45],[28,0.1],[30,0.25],[32,0.55],[34,0.35],[36,0.15],[38,0.3],[40,0.05],[42,0.2],[44,0.4],[46,0.15],[48,0.6],[50,0.3],[52,0.45],[54,0.2],[56,0.55],[58,0.3],[60,0.1],[62,0.4],[64,0.6],[66,0.25],[68,0.5],[70,0.8],[72,1.06],[74,0.85],[76,0.9],[78,0.45],[80,0.25],[82,0.6],[84,0.15],[86,0.75],[88,0.4],[90,0.2],[92,0.55],[94,0.8],[96,0.3],[98,0.65],[100,0.1],[102,0.45],[104,0.7],[106,0.25],[108,0.5],[110,0.85],[112,0.3],[114,0.6],[116,1.25],[117,1.53],[118,1.72],[119,0.4],[121,0.2],[123,0.55],[125,0.3]],
  [[1,0.3],[3,0.1],[5,0.45],[7,0.2],[9,0.55],[11,0.35],[13,0.05],[15,0.25],[17,0.4],[19,0.15],[21,0.6],[23,0.3],[25,0.1],[27,0.45],[29,0.2],[31,0.05],[33,0.35],[35,0.15],[37,0.25],[39,0.5],[41,0.1],[43,0.3],[45,0.2],[47,0.45],[49,0.65],[51,0.35],[53,0.8],[55,0.5],[57,0.25],[59,0.6],[61,0.4],[63,0.9],[64,1.2],[65,2.24],[66,1.47],[67,0.7],[69,0.4],[71,0.15],[73,0.55],[75,0.3],[77,0.75],[79,0.45],[81,0.2],[83,0.6],[85,0.35],[87,0.9],[89,0.5],[91,1.0],[93,0.3],[95,1.33],[96,1.85],[97,2.3],[98,1.57],[99,1.2],[100,0.6],[102,0.3],[104,0.15]],
  [[2,0.2],[4,0.5],[6,0.3],[8,0.1],[10,0.65],[12,0.35],[14,0.8],[16,0.93],[18,0.45],[20,0.2],[22,0.55],[24,0.75],[26,1.3],[27,1.45],[28,1.8],[28.5,2.3],[29,2.2],[29.5,2.55],[30,2.66],[31,0.7],[32,0.4],[34,0.15],[36,0.35],[38,0.6],[40,0.1],[42,0.3],[44,0.5],[46,0.2],[48,0.7],[50,0.35],[52,0.05],[54,0.25],[56,0.45],[58,0.15],[60,0.4],[62,0.6],[64,0.2],[66,0.35],[68,0.1],[70,0.5],[72,0.25],[74,0.4],[76,0.15],[78,0.6],[80,0.3],[82,0.05],[84,0.45],[86,0.2],[88,0.35],[90,0.1],[93,1.18],[94,0.5],[96,0.25]],
  [[2,0.6],[4,0.45],[6,0.8],[8,1.02],[10,0.3],[12,0.65],[14,0.5],[16,0.2],[18,0.75],[20,0.35],[22,0.55],[24,0.15],[26,0.4],[28,0.25],[30,0.1],[32,0.3],[34,0.05],[36,0.2],[38,0.35],[40,0.1],[42,0.25],[44,0.05],[46,0.15],[48,0.3],[50,0.1],[52,0.2],[54,0.05],[56,0.35],[58,0.15],[60,0.25],[62,0.1],[64,0.4],[66,0.2],[68,0.3],[70,0.5],[72,0.15],[74,0.35],[76,0.6],[78,0.2],[80,0.45],[82,0.3],[84,0.7],[86,0.1],[88,0.4],[90,0.25],[92,0.15]],
  [[2,0.1],[4,0.3],[6,0.05],[8,0.2],[10,0.4],[12,0.15],[14,0.3],[16,0.05],[18,0.55],[20,0.25],[22,0.78],[24,0.35],[26,0.1],[28,0.45],[30,0.2],[32,0.6],[34,0.3],[36,0.05],[38,0.4],[40,0.15],[42,0.5],[44,0.25],[46,0.7],[48,0.35],[50,0.1],[52,0.55],[54,0.3],[56,0.75],[58,0.45],[60,0.2],[62,0.6],[64,0.85],[66,0.4],[68,0.7],[70,0.25],[72,0.5],[74,0.8],[76,0.35],[78,0.6],[80,0.15],[82,0.45],[84,0.7],[86,0.3],[88,0.55],[90,0.1]],
  [[1,0.2],[3,0.5],[5,0.1],[7,0.7],[9,0.35],[11,0.85],[13,0.15],[15,0.6],[17,0.3],[19,1.0],[21,0.45],[23,0.75],[25,0.2],[27,0.9],[29,0.55],[31,1.0],[33,0.35],[35,0.8],[37,0.6],[38,1.22],[39,0.95],[40,1.37],[41,1.7],[42,2.4],[42.5,2.35],[43,1.9],[43.5,1.8],[44,1.1],[45,0.65],[46,1.05],[47,0.4],[48,0.85],[49,0.2],[50,0.7],[51,0.5],[52,0.95],[53,0.3],[54,0.6],[55,0.15],[56,0.45],[57,0.8],[58,0.25],[59,0.55],[60,0.35]],
  [[5,0.15],[9,0.4],[12,0.05],[15,0.2],[18,0.3],[21,0.1],[24,0.25],[27,0.05],[30,0.35],[33,0.15],[36,0.2],[39,0.4],[42,0.1],[45,0.3],[48,1.45],[49,1.3],[51,0.6],[54,0.95],[57,0.4],[59,0.2],[61,0.63],[64,0.35],[67,0.8],[70,0.5],[72,0.9],[74,1.1],[76,1.0],[78,0.7],[80,0.3],[83,0.85],[85,0.55],[87,1.0],[89,0.8],[91,0.4],[94,0.2],[97,0.5],[100,0.1],[103,0.3],[106,0.05],[109,0.2],[112,0.35],[115,0.15],[118,0.45],[121,0.25],[124,0.1],[127,0.3],[130,0.55],[133,0.2],[136,0.4],[138,0.9],[140,0.6],[142,0.3],[144,0.7],[146,0.5],[149,0.2],[152,0.4],[155,0.65],[158,0.3],[161,0.5],[163,1.2],[164,1.05],[166,0.6],[168,0.35]]
];

// causal network (panel C)
const dagNodeNames = ["rs26890724", "LOC728392", "Rab34", "Myo1c", "Tnfaip1", "PWAM", "BW"];
const dagEdgeList = [[0, 1], [0, 2], [0, 5], [1, 3], [2, 3], [3, 4], [4, 5], [5, 6]];
const dagEdgeWeights = [1.00, 0.79, 0.90, 0.56, 0.79, 0.61, 1.00, 1.00];

// diagram layout, in the diagram chart's own units
const nodeBoxes = [ // cx, cy, w, h
  [221, 65.5, 138, 41], [86, 170, 144, 41], [216, 170, 74, 41], [208.5, 274.5, 91, 41],
  [213, 378.5, 98, 41], [261.5, 483, 95, 41], [261.5, 587, 81, 40]
];
const edgeRoutes = [
  { path: [[193, 86], [114.5, 149.5]], bold: true, label: [167, 118] },
  { path: [[220, 86], [220, 149.5]], bold: true, label: [222, 118] },
  { path: [[247, 86], [275, 112, 293, 135, 293, 170], [293.5, 385], [293.5, 420, 282, 442, 273, 462.5]], bold: true, label: [297, 274] },
  { path: [[112, 190.5], [185, 254]], bold: false, label: [160, 222] },
  { path: [[218, 190.5], [211, 254]], bold: false, label: [217, 222] },
  { path: [[210, 295], [212, 358]], bold: false, label: [213, 326] },
  { path: [[223, 399], [252, 462.5]], bold: true, label: [243, 430] },
  { path: [[262, 503.5], [262, 566.5]], bold: true, label: [263, 533] }
];

Chart.defaults.font.family = "'DejaVu Sans', Verdana, sans-serif";

const GAP = 10;
const chrStart = [];
let acc = 0;
chrLengthMb.forEach(len => { chrStart.push(acc); acc += len + GAP; });
const genomeEnd = acc - GAP;

const mbTickList = [];
chrLengthMb.forEach((len, i) => {
  xTickMb.forEach(mb => { if (mb <= len) mbTickList.push({ value: chrStart[i] + mb, label: String(mb) }); });
});

// gene annotation per panel (x in genome Mb, y in -log(p))
const notes = {
  bw:   { textY: 3.72, tail: [1593, 4.0], tip: [1678, 4.43], box: [1589, 3.97, 1681, 4.48] },
  pwam: { textY: 3.32, tail: [1593, 3.69], tip: [1666, 4.0], box: [1589, 3.67, 1689, 4.14] }
};

function datasetsFor(hits) {
  return hits.map((list, i) => ({
    data: list.map(([mb, p]) => ({ x: chrStart[i] + mb, y: p })),
    backgroundColor: i % 2 === 0 ? "#0000ff" : "#ff0000",
    pointRadius: 1.4,
    borderWidth: 0
  }));
}

const stripes = {
  id: "stripes",
  beforeDraw(chart) {
    const { ctx, chartArea: a, scales: { x } } = chart;
    ctx.save();
    chromosomes.forEach((name, i) => {
      const x0 = x.getPixelForValue(chrStart[i]);
      const x1 = x.getPixelForValue(chrStart[i] + chrLengthMb[i]);
      ctx.fillStyle = i % 2 === 0 ? "#eef0f7" : "#f9f9fc";
      ctx.fillRect(x0, a.top, x1 - x0, a.bottom - a.top);
      ctx.strokeStyle = "#dedede";
      ctx.lineWidth = 1;
      ctx.strokeRect(x0 + 0.5, a.top + 0.5, x1 - x0 - 1, a.bottom - a.top - 1);
      ctx.fillStyle = "#333";
      ctx.font = "12px 'DejaVu Sans'";
      ctx.textAlign = "center";
      ctx.textBaseline = "middle";
      ctx.fillText(name, (x0 + x1) / 2, a.top + 8);
    });
    ctx.restore();
  }
};

const mbLabels = {
  id: "mbLabels",
  afterDraw(chart) {
    const { ctx, chartArea: a, scales: { x } } = chart;
    ctx.save();
    ctx.font = "9px 'DejaVu Sans'";
    ctx.fillStyle = "#444";
    ctx.textAlign = "left";
    ctx.textBaseline = "middle";
    mbTickList.forEach(t => {
      ctx.save();
      ctx.translate(x.getPixelForValue(t.value), a.bottom + 5);
      ctx.rotate(Math.PI / 2);
      ctx.fillText(t.label, 0, 0);
      ctx.restore();
    });
    ctx.restore();
  }
};

const geneNote = {
  id: "geneNote",
  afterDatasetsDraw(chart) {
    const o = notes[chart.canvas.id];
    const { ctx, scales: { x, y } } = chart;
    const bx0 = x.getPixelForValue(o.box[0]), by0 = y.getPixelForValue(o.box[3]);
    const bx1 = x.getPixelForValue(o.box[2]), by1 = y.getPixelForValue(o.box[1]);
    ctx.save();
    ctx.fillStyle = "#fff";
    ctx.fillRect(bx0, by0, bx1 - bx0, by1 - by0);
    const tx = x.getPixelForValue(o.tail[0]), ty = y.getPixelForValue(o.tail[1]);
    const hx = x.getPixelForValue(o.tip[0]), hy = y.getPixelForValue(o.tip[1]);
    ctx.font = "italic 16.7px 'DejaVu Sans'";
    ctx.fillStyle = "#1a1a1a";
    ctx.textAlign = "right";
    ctx.textBaseline = "middle";
    ctx.fillText(geneLabel, tx, y.getPixelForValue(o.textY));
    const ang = Math.atan2(hy - ty, hx - tx), len = 7, half = 3.5;
    ctx.strokeStyle = "#000";
    ctx.fillStyle = "#000";
    ctx.lineWidth = 2;
    ctx.beginPath();
    ctx.moveTo(tx, ty);
    ctx.lineTo(hx - Math.cos(ang) * len * 0.6, hy - Math.sin(ang) * len * 0.6);
    ctx.stroke();
    ctx.beginPath();
    ctx.moveTo(hx, hy);
    ctx.lineTo(hx - len * Math.cos(ang) + half * Math.sin(ang), hy - len * Math.sin(ang) - half * Math.cos(ang));
    ctx.lineTo(hx - len * Math.cos(ang) - half * Math.sin(ang), hy - len * Math.sin(ang) + half * Math.cos(ang));
    ctx.closePath();
    ctx.fill();
    ctx.restore();
  }
};

function manhattan(id, hits, yMax) {
  return new Chart(document.getElementById(id), {
    type: "scatter",
    data: { datasets: datasetsFor(hits) },
    options: {
      responsive: false,
      animation: false,
      events: [],
      layout: { padding: { top: 50, right: 15, left: 0, bottom: 0 } },
      plugins: { legend: { display: false }, tooltip: { enabled: false } },
      scales: {
        x: {
          type: "linear", min: 0, max: genomeEnd,
          afterBuildTicks: s => { s.ticks = mbTickList.map(t => ({ value: t.value })); },
          ticks: { display: false },
          grid: { drawOnChartArea: false, drawTicks: true, tickLength: 3, color: "#999" },
          border: { color: "#a8a8a8", width: 1.5 },
          title: { display: true, text: "Megabases", color: "#444", font: { size: 14 }, padding: { top: 18, bottom: 3 } }
        },
        y: {
          min: 0, max: yMax,
          afterBuildTicks: s => { s.ticks = yTicks.map(v => ({ value: v })); },
          afterFit: s => { s.width = 54; },
          ticks: { color: "#5c5cff", font: { size: 8 }, padding: 2 },
          grid: { drawOnChartArea: false, tickLength: 4, color: "#7b7bff" },
          border: { color: "#8a8aff", width: 2 },
          title: { display: true, text: "-log(p)", color: "#333", font: { size: 14 }, padding: { top: 24, bottom: 0 } }
        }
      }
    },
    plugins: [stripes, mbLabels, geneNote]
  });
}

manhattan("bw", bodyWeightLogP, 5.35);
manhattan("pwam", adiposeLogP, 5.0);

// panel C
const dagDraw = {
  id: "dagDraw",
  afterDatasetsDraw(chart) {
    const { ctx, scales: { x, y } } = chart;
    const P = (vx, vy) => [x.getPixelForValue(vx), y.getPixelForValue(vy)];
    ctx.save();
    ctx.strokeStyle = "#111";
    ctx.fillStyle = "#111";
    ctx.lineCap = "butt";
    dagEdgeList.forEach((edge, k) => {
      const r = edgeRoutes[k];
      const pts = r.path.map(p => p.length === 6 ? [...P(p[0], p[1]), ...P(p[2], p[3]), ...P(p[4], p[5])] : P(p[0], p[1]));
      const len = r.bold ? 14 : 12.5, half = r.bold ? 5 : 4.5;
      const last = pts[pts.length - 1];
      const tip = [last[last.length - 2], last[last.length - 1]];
      let prev;
      if (last.length === 6) prev = [last[2], last[3]];
      else { const q = pts[pts.length - 2]; prev = [q[q.length - 2], q[q.length - 1]]; }
      const d = Math.hypot(tip[0] - prev[0], tip[1] - prev[1]);
      const ux = (tip[0] - prev[0]) / d, uy = (tip[1] - prev[1]) / d;
      const ex = tip[0] - ux * len * 0.7, ey = tip[1] - uy * len * 0.7;
      ctx.lineWidth = r.bold ? 2.2 : 1.3;
      ctx.beginPath();
      pts.forEach((p, i) => {
        const isLast = i === pts.length - 1;
        if (i === 0) ctx.moveTo(p[0], p[1]);
        else if (p.length === 6) ctx.bezierCurveTo(p[0], p[1], p[2], p[3], isLast ? ex : p[4], isLast ? ey : p[5]);
        else ctx.lineTo(isLast ? ex : p[0], isLast ? ey : p[1]);
      });
      ctx.stroke();
      ctx.beginPath();
      ctx.moveTo(tip[0], tip[1]);
      ctx.lineTo(tip[0] - ux * len - uy * half, tip[1] - uy * len + ux * half);
      ctx.lineTo(tip[0] - ux * len + uy * half, tip[1] - uy * len - ux * half);
      ctx.closePath();
      ctx.fill();
      const lp = P(r.label[0], r.label[1]);
      ctx.font = "16px 'Liberation Serif'";
      ctx.textAlign = "left";
      ctx.textBaseline = "middle";
      ctx.fillText(dagEdgeWeights[k].toFixed(2), lp[0], lp[1]);
    });
    dagNodeNames.forEach((name, i) => {
      const [cx, cy, w, h] = nodeBoxes[i];
      const [l, t] = P(cx - w / 2, cy - h / 2);
      const [r, b] = P(cx + w / 2, cy + h / 2);
      ctx.fillStyle = "#fff";
      ctx.fillRect(l, t, r - l, b - t);
      ctx.strokeStyle = "#444";
      ctx.lineWidth = 1.4;
      ctx.strokeRect(l, t, r - l, b - t);
      ctx.fillStyle = "#111";
      ctx.font = "24px 'Liberation Serif'";
      ctx.textAlign = "center";
      ctx.textBaseline = "middle";
      const c = P(cx, cy);
      ctx.fillText(name, c[0], c[1] + 1);
    });
    ctx.restore();
  }
};

new Chart(document.getElementById("dag"), {
  type: "scatter",
  data: { datasets: [{ data: nodeBoxes.map(b => ({ x: b[0], y: b[1] })), pointRadius: 0 }] },
  options: {
    responsive: false,
    animation: false,
    events: [],
    layout: { padding: 0 },
    plugins: { legend: { display: false }, tooltip: { enabled: false } },
    scales: {
      x: { display: false, min: 0, max: 328 },
      y: { display: false, min: 0, max: 623, reverse: true }
    }
  },
  plugins: [dagDraw]
});
</script>
</body>
</html>
